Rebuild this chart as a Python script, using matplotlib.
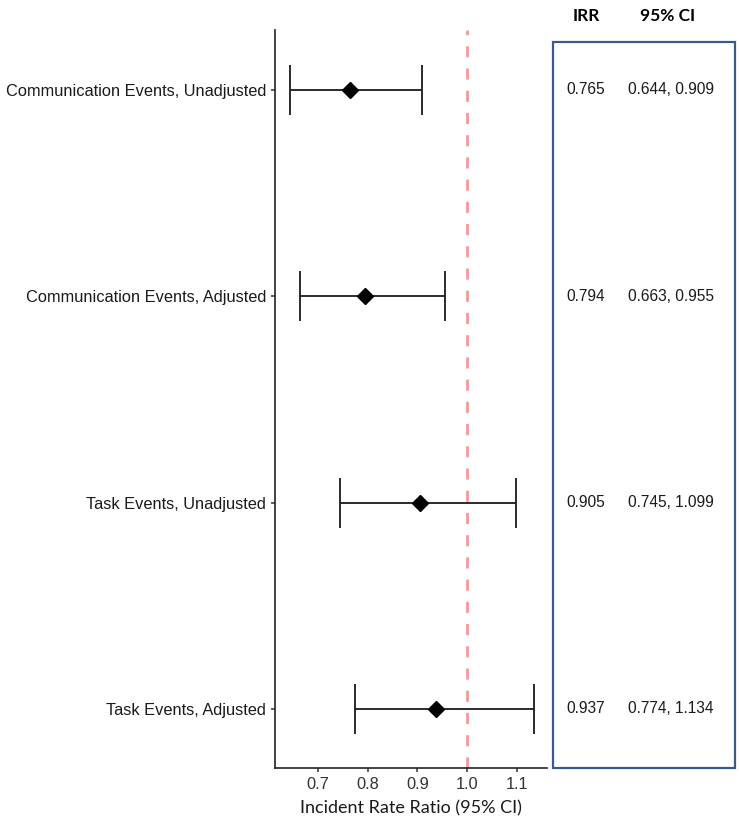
import numpy as np
import matplotlib.pyplot as plt
from matplotlib.patches import Rectangle
from matplotlib.transforms import blended_transform_factory

labels = ["Communication Events, Unadjusted", "Communication Events, Adjusted",
          "Task Events, Unadjusted", "Task Events, Adjusted"]
irr = [0.765, 0.794, 0.905, 0.937]
ci_low = [0.644, 0.663, 0.745, 0.774]
ci_high = [0.909, 0.955, 1.099, 1.134]
xticks = [0.7, 0.8, 0.9, 1.0, 1.1]

plt.rcParams['font.family'] = ['Liberation Sans', 'DejaVu Sans']

fig = plt.figure(figsize=(7.39, 8.26), dpi=100)
ax = fig.add_axes([275 / 739, 58 / 826, 272 / 739, 738 / 826])

ypos = np.arange(len(labels))[::-1] + 1
irr_a = np.array(irr)
err = [irr_a - np.array(ci_low), np.array(ci_high) - irr_a]

ax.axvline(1.0, color='#F08080', linestyle=(0, (4, 4)), lw=2, alpha=0.8, zorder=1)
ax.errorbar(irr, ypos, xerr=err, fmt='none', ecolor='#1a1a1a', elinewidth=1.3,
            capsize=18, capthick=1.3, zorder=2)
ax.plot(irr, ypos, 'D', color='black', markersize=8, zorder=3)

ax.set_xlim(0.6135, 1.161)
ax.set_ylim(0.714, 4.29)
ax.set_yticks(ypos)
ax.set_yticklabels(labels, fontsize=11.8, color='#1a1a1a')
ax.set_xticks(xticks)
ax.set_xticklabels([f"{v:.1f}" for v in xticks], fontsize=11.8, color='#333333')
ax.tick_params(length=3, color='#333333', width=1.1)
for s in ['top', 'right']:
    ax.spines[s].set_visible(False)
for s in ['left', 'bottom']:
    ax.spines[s].set_linewidth(1.2)
    ax.spines[s].set_color('#222222')
ax.set_xlabel("Incident Rate Ratio (95% CI)", family=['Lato', 'DejaVu Sans'],
              fontsize=13, labelpad=6, color='#1a1a1a')

# side table
box = Rectangle((553 / 739, 58 / 826), 182 / 739, 726 / 826, transform=fig.transFigure,
                fill=False, edgecolor='#3B5A8C', lw=1.6)
fig.patches.append(box)
tr = blended_transform_factory(fig.transFigure, ax.transData)
for y, v, lo, hi in zip(ypos, irr, ci_low, ci_high):
    fig.text(586 / 739, y, f"{v:.3f}", transform=tr, ha='center', va='center',
             fontsize=11.2, color='#1a1a1a')
    fig.text(671 / 739, y, f"{lo:.3f}, {hi:.3f}", transform=tr, ha='center', va='center',
             fontsize=11.2, color='#1a1a1a')
fig.text(586 / 739, 1 - 16 / 826, "IRR", ha='center', va='center', fontsize=12.5,
         fontweight='bold', family=['Lato', 'DejaVu Sans'])
fig.text(668 / 739, 1 - 16 / 826, "95% CI", ha='center', va='center', fontsize=12.5,
         fontweight='bold', family=['Lato', 'DejaVu Sans'])

fig.savefig("out.png", dpi=100)
